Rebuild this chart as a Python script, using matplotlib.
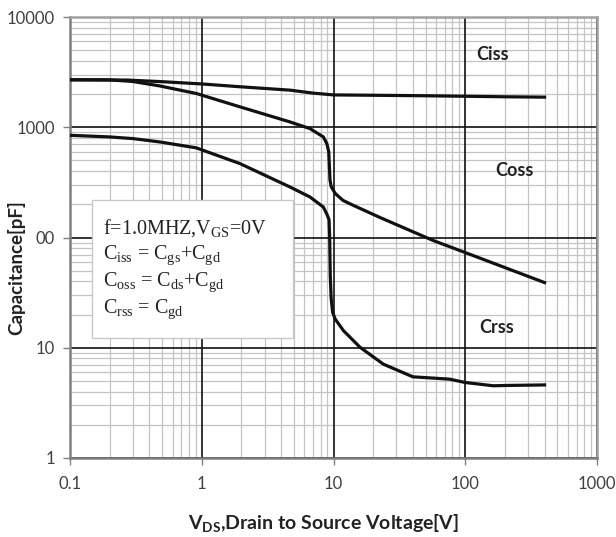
import matplotlib
matplotlib.use("Agg")
import matplotlib.pyplot as plt
from matplotlib.patches import Rectangle
from matplotlib.ticker import FixedLocator, LogLocator, NullFormatter

# Ciss curve
vds_ciss = [0.1, 0.27, 0.5, 1, 1.95, 4.68, 7, 10, 20, 50, 100, 200, 400]
ciss = [2690, 2680, 2590, 2470, 2330, 2170, 2040, 1965, 1950, 1930, 1910, 1890, 1875]

# Coss curve
vds_coss = [0.1, 0.2, 0.3, 0.48, 0.91, 1.95, 4.68, 6.63, 8.37, 8.9, 9.2, 9.3, 9.4,
            9.6, 10.3, 11.8, 14.1, 22.5, 57, 100, 400]
coss = [2700, 2690, 2600, 2370, 2024, 1531, 1117, 972, 817, 711, 600, 450, 335,
        290, 251, 217, 196, 152, 94, 73, 39]

# Crss curve
vds_crss = [0.1, 0.2, 0.3, 0.48, 0.91, 1.95, 4.68, 6.63, 8.37, 8.9, 9.25, 9.35, 9.45, 9.6,
            9.85, 10.3, 11.9, 15.9, 23.9, 40, 76, 100, 163, 206, 400]
crss = [845, 817, 789, 736, 650, 468, 287, 233, 189, 163, 145, 100, 45, 28,
        21, 18.2, 14.3, 10.1, 7.1, 5.45, 5.19, 4.84, 4.52, 4.55, 4.6]

x_ticks = [0.1, 1, 10, 100, 1000]
x_labels = ["0.1", "1", "10", "100", "1000"]
y_ticks = [1, 10, 100, 1000, 10000]
y_labels = ["1", "10", "00", "1000", "10000"]

fig = plt.figure(figsize=(6.16, 5.37), dpi=100)
ax = fig.add_axes([70 / 616, 1 - 458 / 537, 527 / 616, 441 / 537])

ax.set_xscale("log")
ax.set_yscale("log")
ax.set_xlim(0.1, 1000)
ax.set_ylim(1, 10000)

ax.xaxis.set_major_locator(FixedLocator(x_ticks))
ax.yaxis.set_major_locator(FixedLocator(y_ticks))
ax.xaxis.set_minor_locator(LogLocator(base=10, subs=range(2, 10)))
ax.yaxis.set_minor_locator(LogLocator(base=10, subs=range(2, 10)))
ax.xaxis.set_minor_formatter(NullFormatter())
ax.yaxis.set_minor_formatter(NullFormatter())
ax.set_xticklabels(x_labels, fontfamily="Lato", fontsize=12, color="#404040")
ax.set_yticklabels(y_labels, fontfamily="Lato", fontsize=12, color="#404040")

# minor grid from the axis, major grid on top of it
ax.grid(which="minor", color="#c4c4c4", linewidth=0.9)
for xv in x_ticks:
    ax.axvline(xv, color="#111111", linewidth=1.2, zorder=2)
for yv in y_ticks:
    ax.axhline(yv, color="#111111", linewidth=1.2, zorder=2)

ax.tick_params(which="major", direction="out", length=5, width=1, color="#808080")
ax.tick_params(axis="x", which="major", pad=8)
ax.tick_params(axis="y", which="major", pad=6)
ax.tick_params(which="minor", length=0)
for side in ["top", "right"]:
    ax.spines[side].set_color("#a0a0a0")
    ax.spines[side].set_linewidth(1.8)
for side in ["left", "bottom"]:
    ax.spines[side].set_color("#808080")
    ax.spines[side].set_linewidth(1.8)

ax.plot(vds_ciss, ciss, color="#111111", linewidth=2.3, zorder=4)
ax.plot(vds_coss, coss, color="#111111", linewidth=2.3, zorder=4)
ax.plot(vds_crss, crss, color="#111111", linewidth=2.3, zorder=4)

# formula box
ax.add_patch(Rectangle((0.0417, 0.272), 0.381, 0.313, transform=ax.transAxes,
                       facecolor="white", edgecolor="#c8c8c8", linewidth=1, zorder=3))
box_lines = [
    r"f=1.0MHZ,V$\mathregular{_{GS}}$=0V",
    r"C$\mathregular{_{iss}}$ = C$\mathregular{_{gs}}$+C$\mathregular{_{gd}}$",
    r"C$\mathregular{_{oss}}$ = C$\mathregular{_{ds}}$+C$\mathregular{_{gd}}$",
    r"C$\mathregular{_{rss}}$ = C$\mathregular{_{gd}}$",
]
for i, s in enumerate(box_lines):
    ax.text(0.0626, 0.5215 - i * 0.0617, s, transform=ax.transAxes, fontfamily="Liberation Serif",
            fontsize=14.5, color="#222222", va="center", ha="left", zorder=5)

ax.text(0.8027, 0.914, "Ciss", transform=ax.transAxes, fontfamily="Lato", fontweight="bold",
        fontsize=13, color="#222222", ha="center", va="center", zorder=5)
ax.text(0.844, 0.653, "Coss", transform=ax.transAxes, fontfamily="Lato", fontweight="bold",
        fontsize=13, color="#222222", ha="center", va="center", zorder=5)
ax.text(0.810, 0.295, "Crss", transform=ax.transAxes, fontfamily="Lato", fontweight="bold",
        fontsize=13, color="#222222", ha="center", va="center", zorder=5)

fig.text(323 / 616, 1 - 523 / 537, r"$\mathregular{V_{DS}}$,Drain to Source Voltage[V]",
         fontfamily="Lato", fontweight="bold", fontsize=14, color="#222222",
         ha="center", va="center")
fig.text(16 / 616, 1 - 268 / 537, "Capacitance[pF]", fontfamily="Lato", fontweight="bold",
         fontsize=13.5, color="#222222", ha="center", va="center", rotation=90)

fig.savefig("out.png", dpi=100)
